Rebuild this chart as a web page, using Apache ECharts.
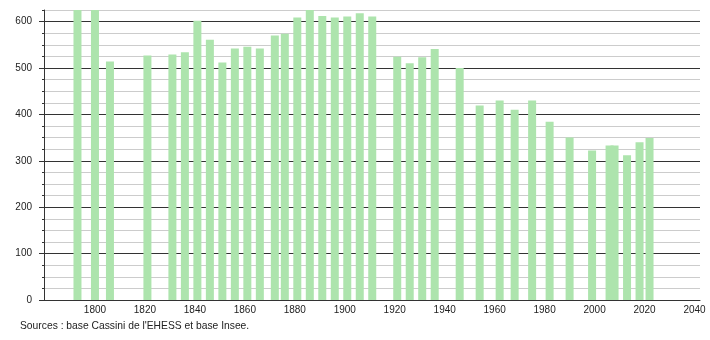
<!DOCTYPE html>
<html>
<head>
<meta charset="utf-8">
<script src="https://cdn.jsdelivr.net/npm/echarts@6/dist/echarts.min.js"></script>
<style>
html,body{margin:0;padding:0;background:#fff;}
#chart{width:710px;height:340px;}
</style>
</head>
<body>
<div id="chart"></div>
<script>
const years = [1793,1800,1806,1821,1831,1836,1841,1846,1851,1856,1861,1866,1872,1876,1881,1886,1891,1896,1901,1906,1911,1921,1926,1931,1936,1946,1954,1962,1968,1975,1982,1990,1999,2006,2008,2013,2018,2022];
const population = [625,625,514,527,529,534,602,561,512,542,546,542,570,574,609,625,612,609,611,618,611,524,510,523,541,500,419,430,410,430,384,350,322,333,333,312,340,349];
const yTickLabels = [0,100,200,300,400,500,600];
const xTickLabels = [1800,1820,1840,1860,1880,1900,1920,1940,1960,1980,2000,2020,2040];
const sourceText = "Sources : base Cassini de l'EHESS et base Insee.";

const dark = '#333333', light = '#cccccc';
const font = 'Liberation Sans, Arial, sans-serif';
const chart = echarts.init(document.getElementById('chart'), null, {renderer:'canvas'});
chart.setOption({
  animation:false,
  grid:{left:44, right:10, top:10, bottom:40, containLabel:false, outerBoundsMode:'none'},
  xAxis:{
    type:'value', min:1779.6, max:2042.2,
    axisLine:{show:true, onZero:false, lineStyle:{color:dark, width:1}},
    axisTick:{show:false},
    splitLine:{show:false},
    axisLabel:{
      customValues: xTickLabels,
      formatter: v => String(v),
      color:'#222', fontSize:10, fontFamily:font, margin:5
    }
  },
  yAxis:[{
    type:'value', min:0, max:625, interval:25,
    axisLine:{show:true, lineStyle:{color:dark, width:1}},
    axisTick:{show:true, length:2, lineStyle:{color:dark}},
    splitLine:{show:true, lineStyle:{color:[dark, light, light, light], width:1}},
    axisLabel:{
      customValues: yTickLabels,
      formatter: v => String(v),
      color:'#222', fontSize:10, fontFamily:font, margin:12
    }
  },{
    type:'value', min:0, max:625, position:'left',
    axisLine:{show:false},
    axisTick:{show:true, length:5, customValues: yTickLabels, lineStyle:{color:dark}},
    splitLine:{show:false},
    axisLabel:{show:false}
  }],
  series:[{
    type:'bar',
    yAxisIndex:0,
    barWidth:8,
    itemStyle:{color:'#ade4ad'},
    data: years.map((y,i)=>[y, population[i]])
  }],
  graphic:[{
    type:'text', left:20, top:321,
    style:{text:sourceText, fill:'#222', fontSize:10.3, fontFamily:font}
  }]
});
</script>
</body>
</html>
